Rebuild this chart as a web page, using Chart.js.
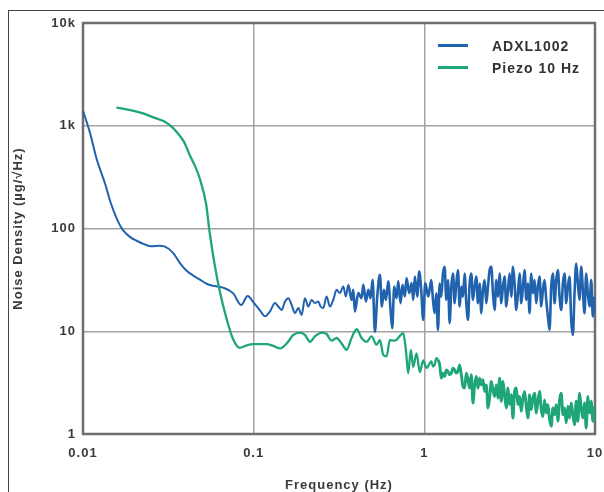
<!DOCTYPE html>
<html>
<head>
<meta charset="utf-8">
<script src="https://cdn.jsdelivr.net/npm/chart.js@4"></script>
<style>
    body { margin: 0; background: #fff; overflow: hidden; }
    #wrap { position: relative; width: 604px; height: 492px; overflow: hidden; }
    #frame { position: absolute; left: 8px; top: 10px; width: 700px; height: 600px;
             border-left: 1.5px solid #444; border-top: 1.5px solid #444; }
    #chart { position: absolute; left: 0; top: 0; }
    #legend { position: absolute; left: 438px; top: 35px; font: bold 14px "Liberation Sans", Arial, sans-serif;
              letter-spacing: 1px; color: #333; }
    .item { position: relative; height: 22px; line-height: 22px; }
    .swatch { position: absolute; left: 0; top: 9px; width: 30px; height: 3px; }
    .item span { position: absolute; left: 54px; top: 0; white-space: nowrap; }
</style>
</head>
<body>
<div id="wrap">
    <div id="frame"></div>
    <canvas id="chart" width="604" height="492"></canvas>
    <div id="legend"></div>
</div>
<script>
// Axis ticks
const xTicks = [0.01, 0.1, 1, 10];
const xTickLabels = ['0.01', '0.1', '1', '10'];
const yTicks = [1, 10, 100, 1000, 10000];
const yTickLabels = ['1', '10', '100', '1k', '10k'];

// ADXL1002, 0.01 Hz to ~1 Hz
const blueFreq = [0.0100, 0.0110, 0.0120, 0.0135, 0.0145, 0.0160, 0.0172, 0.0190, 0.0206, 0.0230,
    0.0251, 0.0280, 0.0300, 0.0337, 0.0370, 0.0403, 0.0440, 0.0482, 0.0530, 0.0577,
    0.0660, 0.0757, 0.0845, 0.0922, 0.1000, 0.1089, 0.1165,
    0.1246, 0.1333, 0.1394, 0.1458, 0.1526, 0.1596, 0.1669, 0.1746, 0.1826, 0.1910,
    0.1997, 0.2089, 0.2185, 0.2286, 0.2390, 0.2467, 0.2558, 0.2675, 0.2798, 0.2926,
    0.3062, 0.3202, 0.3350, 0.3472, 0.3583, 0.3748, 0.3833, 0.3920, 0.4100, 0.4289,
    0.4386, 0.4548, 0.4693, 0.4842, 0.4975, 0.5134, 0.5297, 0.5492, 0.5641, 0.5797,
    0.5955, 0.6145, 0.6341, 0.6486, 0.6663, 0.6875, 0.7031, 0.7256, 0.7455, 0.7691,
    0.7866, 0.8154, 0.8416, 0.8607, 0.8803, 0.9084, 0.9333, 0.9585, 0.9849, 1.012, 1.054];
const blueVal = [1400, 850, 480, 270, 180, 118, 96, 82, 76, 70,
    67, 68, 67, 58, 46, 39, 35, 32, 29, 27.7,
    26.6, 23.5, 18.0, 22.0, 19.0, 16.0, 14.0,
    15.6, 18.8, 17.4, 16.1, 19.5, 21.0, 18.1, 15.0, 16.8, 14.4,
    21.0, 17.4, 20.2, 18.8, 19.5, 17.4, 16.8, 21.8, 17.4, 20.2,
    25.3, 23.5, 27.3, 21.8, 28.3, 20.2, 25.3, 15.6, 23.5, 21.0,
    28.3, 19.5, 25.3, 21.0, 31.7, 9.9, 21.8, 35.5, 17.4, 25.3,
    20.2, 30.6, 16.1, 10.7, 27.3, 21.0, 30.6, 18.8, 28.3, 21.8,
    32.9, 23.5, 29.4, 20.2, 34.1, 21.8, 38.2, 25.3, 12.9, 29.4, 21.8];

// Piezo 10 Hz, ~0.016 Hz to ~1 Hz
const greenFreq = [0.0157, 0.0190, 0.0225, 0.0260, 0.0300, 0.0330, 0.0352, 0.0390, 0.0422, 0.0455,
    0.0482, 0.0527, 0.0551, 0.0590, 0.0632, 0.0690, 0.0757, 0.0827, 0.0910, 0.1000,
    0.1100, 0.1191, 0.1304, 0.1427, 0.1561, 0.1707, 0.1867, 0.1997, 0.2137, 0.2286,
    0.2501, 0.2675, 0.2861, 0.3062, 0.3275, 0.3504, 0.3748, 0.4009, 0.4289, 0.4589,
    0.4909, 0.5250, 0.5492, 0.5745, 0.6007, 0.6284, 0.6723, 0.7191, 0.7521, 0.7796,
    0.8045, 0.8339, 0.8607, 0.9000, 0.9415, 0.9849, 1.030];
const greenVal = [1500, 1420, 1320, 1200, 1100, 980, 880, 700, 520, 400,
    310, 171, 94, 45, 24.8, 13.7, 8.4, 6.9, 7.3, 7.5,
    7.5, 7.5, 7.2, 6.8, 7.6, 9.2, 9.7, 9.2, 7.9, 8.9,
    9.7, 9.4, 8.1, 8.6, 7.6, 6.6, 8.6, 10.5, 8.6, 7.9,
    8.9, 7.4, 8.2, 5.9, 5.7, 8.2, 8.1, 9.0, 9.6, 6.6,
    3.9, 6.6, 4.5, 6.1, 4.0, 5.2, 4.4];

// 1 Hz to 10 Hz, shared by both traces
const highFreq = [1.099, 1.124, 1.149, 1.176, 1.202, 1.230, 1.257, 1.286, 1.315, 1.345,
    1.376, 1.407, 1.439, 1.472, 1.505, 1.539, 1.574, 1.610, 1.647, 1.684,
    1.722, 1.762, 1.802, 1.843, 1.884, 1.927, 1.971, 2.016, 2.062, 2.109,
    2.157, 2.206, 2.256, 2.307, 2.360, 2.413, 2.468, 2.524, 2.581, 2.640,
    2.700, 2.761, 2.824, 2.888, 2.954, 3.021, 3.090, 3.160, 3.232, 3.305,
    3.380, 3.457, 3.535, 3.616, 3.698, 3.782, 3.867, 3.955, 4.045, 4.137,
    4.231, 4.327, 4.426, 4.526, 4.629, 4.734, 4.842, 4.952, 5.064, 5.179,
    5.297, 5.417, 5.541, 5.666, 5.795, 5.927, 6.061, 6.199, 6.340, 6.484,
    6.631, 6.782, 6.936, 7.093, 7.254, 7.419, 7.588, 7.760, 7.936, 8.116,
    8.301, 8.489, 8.682, 8.880, 9.082, 9.289, 9.501, 9.716, 9.940];
const blueHigh = [31.5, 20.2, 15.0, 23.4, 10.3, 29.2, 21.7, 36.5, 42.5, 20.2,
    31.5, 12.0, 27.2, 36.5, 18.7, 29.2, 39.4, 17.4, 27.2, 21.7,
    36.5, 18.7, 12.9, 29.2, 36.5, 20.2, 27.2, 34.0, 18.7, 29.2,
    15.0, 25.2, 31.5, 18.7, 27.2, 39.4, 42.5, 23.4, 16.1, 31.5,
    21.7, 36.5, 18.7, 27.2, 34.0, 17.4, 25.2, 36.5, 21.7, 42.5,
    29.2, 16.1, 23.4, 36.5, 18.7, 27.2, 39.4, 20.2, 29.2, 15.0,
    36.5, 23.4, 31.5, 18.7, 27.2, 34.0, 17.4, 25.2, 31.5, 20.2,
    13.9, 10.3, 27.2, 36.5, 18.7, 31.5, 39.4, 21.7, 16.1, 29.2,
    36.5, 18.7, 27.2, 34.0, 12.9, 9.2, 23.4, 45.7, 29.2, 20.2,
    42.5, 25.2, 15.0, 36.5, 23.4, 17.4, 31.5, 13.9, 21.7];
const greenHigh = [5.08, 4.54, 4.71, 5.47, 5.27, 4.71, 3.50, 3.91, 3.63, 4.21,
    4.06, 3.77, 3.91, 4.37, 4.21, 3.91, 4.06, 4.71, 3.77, 2.90,
    2.80, 3.91, 3.37, 2.80, 3.77, 2.00, 3.01, 3.63, 2.80, 3.50,
    3.01, 3.37, 2.60, 3.01, 1.79, 2.24, 3.25, 2.69, 2.32, 3.01,
    2.24, 3.50, 2.08, 3.25, 2.41, 1.79, 2.80, 1.93, 2.41, 1.43,
    2.60, 2.80, 1.93, 2.32, 1.66, 2.24, 2.60, 1.86, 1.43, 2.41,
    1.72, 2.24, 2.50, 1.60, 2.08, 2.60, 1.72, 1.48, 2.15, 1.60,
    1.93, 1.38, 1.19, 1.79, 1.54, 1.93, 1.33, 2.15, 2.50, 1.54,
    1.79, 1.28, 1.86, 1.43, 2.00, 1.54, 1.23, 2.08, 1.33, 2.50,
    1.79, 1.43, 2.00, 1.14, 2.32, 1.60, 2.08, 1.33, 1.86];

function toPoints(freqs, vals) {
    return freqs.map((f, i) => ({ x: f, y: vals[i] }));
}

const tickFont = { family: '"Liberation Sans", Arial, sans-serif', size: 13, weight: 'bold' };
const textColor = '#3a3a3a';

// grey box round the plot area
const plotFrame = {
    id: 'plotFrame',
    beforeDraw(chart) {
        chart.ctx.letterSpacing = '1px';
    },
    beforeDatasetsDraw(chart) {
        const { ctx, chartArea: a } = chart;
        ctx.save();
        ctx.strokeStyle = '#6e6e6e';
        ctx.lineWidth = 2.5;
        ctx.strokeRect(a.left, a.top, a.right - a.left, a.bottom - a.top);
        ctx.restore();
    }
};

// noisy part of the traces is drawn a little heavier
const noisyWidth = (base, from) => ctx => ctx.p0.parsed.x >= from ? base + 0.6 : base;

const chart = new Chart(document.getElementById('chart'), {
    type: 'line',
    data: {
        datasets: [{
            label: 'ADXL1002',
            data: toPoints(blueFreq.concat(highFreq), blueVal.concat(blueHigh)),
            borderColor: '#2062ad',
            borderWidth: 2,
            segment: { borderWidth: noisyWidth(2, 0.35) },
            order: 2
        }, {
            label: 'Piezo 10 Hz',
            data: toPoints(greenFreq.concat(highFreq), greenVal.concat(greenHigh)),
            borderColor: '#1ea678',
            borderWidth: 2.3,
            segment: { borderWidth: noisyWidth(2.3, 1.2) },
            order: 1
        }]
    },
    options: {
        responsive: false,
        animation: false,
        cubicInterpolationMode: 'monotone',
        elements: { point: { radius: 0 } },
        layout: { padding: { left: 0, right: 9, top: 23, bottom: 0 } },
        plugins: { legend: { display: false }, tooltip: { enabled: false } },
        scales: {
            x: {
                type: 'logarithmic',
                min: 0.01,
                max: 10,
                afterBuildTicks: s => { s.ticks = xTicks.map(v => ({ value: v })); },
                afterFit: s => { s.height = 58; s.paddingLeft = 0; s.paddingRight = 0; },
                ticks: {
                    callback: (v, i) => xTickLabels[i],
                    font: tickFont, color: textColor, padding: 12,
                    autoSkip: false, maxRotation: 0
                },
                grid: { color: '#a2a2a2', lineWidth: 1.5, drawTicks: false },
                border: { display: false },
                title: {
                    display: true, text: 'Frequency (Hz)', color: textColor,
                    font: { ...tickFont, lineHeight: 1 }, padding: { top: 0, bottom: 0 }
                }
            },
            y: {
                type: 'logarithmic',
                min: 1,
                max: 10000,
                afterBuildTicks: s => { s.ticks = yTicks.map(v => ({ value: v })); },
                afterFit: s => { s.width = 83; s.paddingTop = 0; s.paddingBottom = 0; },
                ticks: {
                    callback: (v, i) => yTickLabels[i],
                    font: tickFont, color: textColor, padding: 7, autoSkip: false
                },
                grid: { color: '#a2a2a2', lineWidth: 1.5, drawTicks: false },
                border: { display: false },
                title: {
                    display: true, text: 'Noise Density (µg/√Hz)', color: textColor,
                    font: { ...tickFont, lineHeight: 1 }, padding: { top: 12, bottom: 0 }
                }
            }
        }
    },
    plugins: [plotFrame]
});

// legend in the top right corner of the plot
const legend = document.getElementById('legend');
legend.innerHTML = chart.data.datasets.map(ds => `
    <div class="item">
        <div class="swatch" style="background:${ds.borderColor}"></div>
        <span>${ds.label}</span>
    </div>
`).join('');
</script>
</body>
</html>
